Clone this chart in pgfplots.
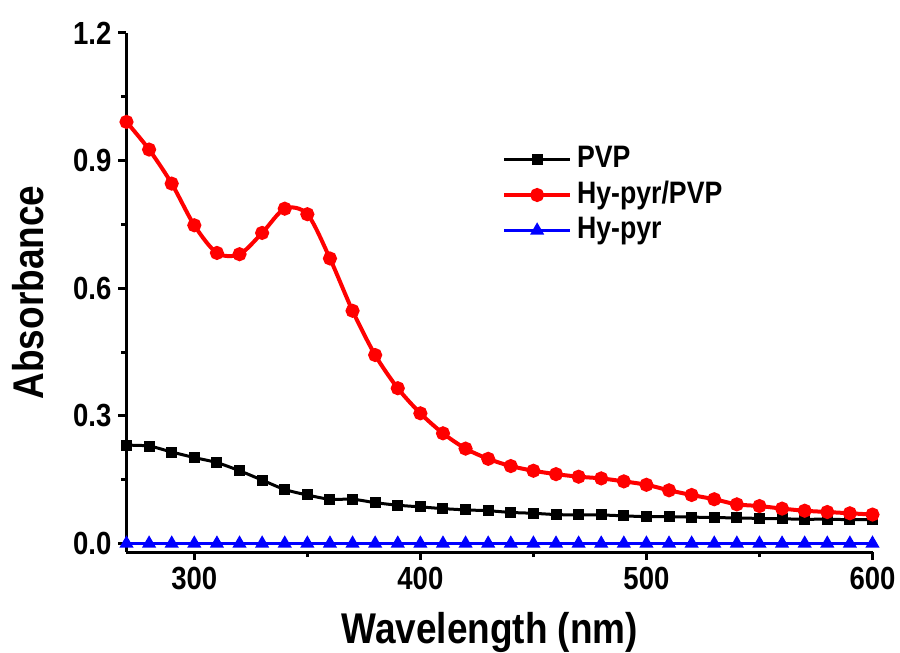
\documentclass[border=0pt]{standalone}
\usepackage{fontspec}
\setmainfont{Liberation Sans}[FakeStretch=0.86]
\usepackage{pgfplots}
\pgfplotsset{compat=1.18}
\usepackage{pgfplotstable}

\pgfplotstableread{
x y
270 0.991
280 0.926
290 0.846
300 0.748
310 0.683
320 0.680
330 0.730
340 0.787
350 0.774
360 0.670
370 0.547
380 0.443
390 0.365
400 0.306
410 0.259
420 0.223
430 0.199
440 0.182
450 0.171
460 0.163
470 0.157
480 0.153
490 0.146
500 0.138
510 0.125
520 0.114
530 0.104
540 0.092
550 0.088
560 0.082
570 0.077
580 0.074
590 0.071
600 0.068
}\hypvp

\pgfplotstableread{
x y
270 0.231
280 0.229
290 0.215
300 0.202
310 0.190
320 0.171
330 0.149
340 0.127
350 0.114
360 0.104
370 0.104
380 0.096
390 0.090
400 0.086
410 0.082
420 0.079
430 0.077
440 0.073
450 0.071
460 0.068
470 0.067
480 0.067
490 0.065
500 0.063
510 0.063
520 0.062
530 0.061
540 0.060
550 0.059
560 0.058
570 0.057
580 0.057
590 0.056
600 0.056
}\pvp

\pgfplotstableread{
x y
270 0
280 0
290 0
300 0
310 0
320 0
330 0
340 0
350 0
360 0
370 0
380 0
390 0
400 0
410 0
420 0
430 0
440 0
450 0
460 0
470 0
480 0
490 0
500 0
510 0
520 0
530 0
540 0
550 0
560 0
570 0
580 0
590 0
600 0
}\hyp

\begin{document}
\begin{tikzpicture}
\begin{axis}[
  name=ax,
  scale only axis,
  width=373pt, height=259.5pt,
  xmin=270, xmax=600,
  ymin=-0.02, ymax=1.2,
  axis lines*=left,
  axis line style={line width=1.5pt},
  every tick/.style={line width=1.5pt, black},
  tick align=outside,
  major tick length=4pt,
  minor tick length=2.5pt,
  xtick={300,400,500,600},
  ytick={0,0.3,0.6,0.9,1.2},
  minor x tick num=1,
  minor y tick num=1,
  /pgf/number format/assume math mode=true,
  yticklabel style={/pgf/number format/.cd, fixed, fixed zerofill, precision=1},
  xticklabel style={/pgf/number format/.cd, fixed, 1000 sep={}},
  tick label style={font=\fontsize{16}{16}\selectfont\bfseries},
  xlabel={Wavelength (nm)},
  ylabel={Absorbance},
  label style={font=\fontsize{21.5}{21.5}\selectfont\bfseries},
  xlabel style={at={(axis description cs:0.487,0)}, anchor=north, inner sep=0pt, yshift=-30pt},
  ylabel style={at={(axis description cs:-0.1314,0.5)}, anchor=center, rotate=0},
  legend style={draw=none, fill=none, at={(rel axis cs:0.503,0.784)}, anchor=north west,
    font=\fontsize{15.5}{15.5}\selectfont\bfseries, inner sep=0pt,
    nodes={inner sep=0pt, text height=11pt, text depth=3pt},
    row sep=3.75pt, column sep=2.5pt},
  legend cell align=left,
  legend image code/.code={\draw[mark repeat=2,mark phase=2] plot coordinates {(0cm,0cm)(0.58cm,0cm)(1.16cm,0cm)};},
  clip=false,
]
\addplot[black, line width=1.5pt, smooth, tension=0.5, mark=square*, mark size=2pt, mark options={solid}] table[x=x,y=y] {\pvp};
\addlegendentry{PVP}
\addplot[red, line width=2pt, smooth, tension=0.5, mark=*, mark size=2.5pt, mark options={solid}] table[x=x,y=y] {\hypvp};
\addlegendentry{Hy-pyr/PVP}
\addplot[blue, line width=1.5pt, mark=triangle*, mark size=2.6pt, mark options={solid}] table[x=x,y=y] {\hyp};
\addlegendentry{Hy-pyr}
\end{axis}
\pgfresetboundingbox
\path ([shift={(-63.25pt,-50.5pt)}]ax.south west) rectangle ([shift={(386.75pt,276pt)}]ax.south west);
\end{tikzpicture}
\end{document}
